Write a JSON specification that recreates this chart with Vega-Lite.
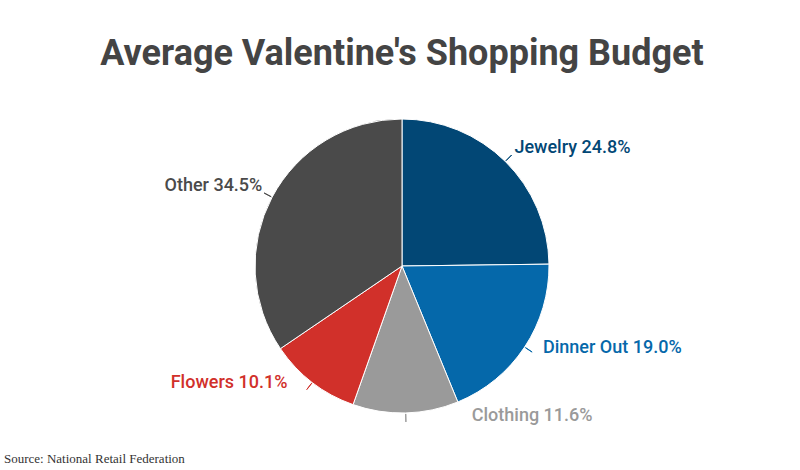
{
  "$schema": "https://vega.github.io/schema/vega-lite/v6.json",
  "autosize": "pad",
  "padding": {"left": 4, "top": 36, "right": 0, "bottom": 0},
  "background": "white",
  "title": {
    "text": "Average Valentine's Shopping Budget",
    "font": "Roboto",
    "fontSize": 36,
    "fontWeight": "bold",
    "color": "#444444",
    "anchor": "middle",
    "offset": 44
  },
  "vconcat": [
    {
      "width": 796,
      "height": 294,
      "title": {
        "text": "Source: National Retail Federation",
        "orient": "bottom",
        "anchor": "start",
        "font": "Liberation Serif",
        "fontSize": 13,
        "fontWeight": "normal",
        "color": "#333333",
        "offset": 28
      },
      "data": {
        "values": [
          {"category": "Jewelry", "share": 24.8, "rank": 1},
          {"category": "Dinner Out", "share": 19.0, "rank": 2},
          {"category": "Clothing", "share": 11.6, "rank": 3},
          {"category": "Flowers", "share": 10.1, "rank": 4},
          {"category": "Other", "share": 34.5, "rank": 5}
        ]
      },
      "transform": [
        {"stack": "share", "sort": [{"field": "rank", "order": "ascending"}], "groupby": [], "as": ["start", "end"]},
        {"calculate": "(datum.start + datum.end) / 2", "as": "mid"}
      ],
      "encoding": {
        "color": {
          "field": "category",
          "type": "nominal",
          "legend": null,
          "scale": {
            "domain": ["Jewelry", "Dinner Out", "Clothing", "Flowers", "Other"],
            "range": ["#024775", "#0568aa", "#9a9a9a", "#d1302a", "#4a4a4a"]
          }
        }
      },
      "layer": [
        {
          "mark": {"type": "arc", "outerRadius": 147, "stroke": "white", "strokeWidth": 1},
          "encoding": {
            "theta": {"field": "start", "type": "quantitative", "scale": {"domain": [0, 100]}},
            "theta2": {"field": "end"}
          }
        },
        {
          "mark": {"type": "arc", "filled": false, "innerRadius": 148, "outerRadius": 156, "strokeWidth": 1},
          "encoding": {
            "theta": {"field": "mid", "type": "quantitative"},
            "theta2": {"field": "mid"}
          }
        },
        {
          "transform": [{"filter": "datum.category === 'Jewelry'"}],
          "mark": {"type": "text", "radius": 160, "align": "left", "baseline": "middle", "dy": -4, "font": "Roboto", "fontSize": 18, "fontWeight": 500},
          "encoding": {"theta": {"field": "mid", "type": "quantitative"}, "text": {"value": "Jewelry 24.8%"}}
        },
        {
          "transform": [{"filter": "datum.category === 'Dinner Out'"}],
          "mark": {"type": "text", "radius": 169, "align": "left", "baseline": "middle", "dy": -11, "font": "Roboto", "fontSize": 18, "fontWeight": 500},
          "encoding": {"theta": {"field": "mid", "type": "quantitative"}, "text": {"value": "Dinner Out 19.0%"}}
        },
        {
          "transform": [{"filter": "datum.category === 'Clothing'"}],
          "mark": {"type": "text", "radius": 150, "align": "left", "baseline": "middle", "dx": 66, "font": "Roboto", "fontSize": 18, "fontWeight": 500},
          "encoding": {"theta": {"field": "mid", "type": "quantitative"}, "text": {"value": "Clothing 11.6%"}}
        },
        {
          "transform": [{"filter": "datum.category === 'Flowers'"}],
          "mark": {"type": "text", "radius": 150, "align": "right", "baseline": "middle", "dx": -23, "dy": -2, "font": "Roboto", "fontSize": 18, "fontWeight": 500},
          "encoding": {"theta": {"field": "mid", "type": "quantitative"}, "text": {"value": "Flowers 10.1%"}}
        },
        {
          "transform": [{"filter": "datum.category === 'Other'"}],
          "mark": {"type": "text", "radius": 158, "align": "right", "baseline": "middle", "dy": -6, "font": "Roboto", "fontSize": 18, "fontWeight": 500},
          "encoding": {"theta": {"field": "mid", "type": "quantitative"}, "text": {"value": "Other 34.5%"}}
        }
      ]
    }
  ],
  "config": {"view": {"stroke": null}}
}
